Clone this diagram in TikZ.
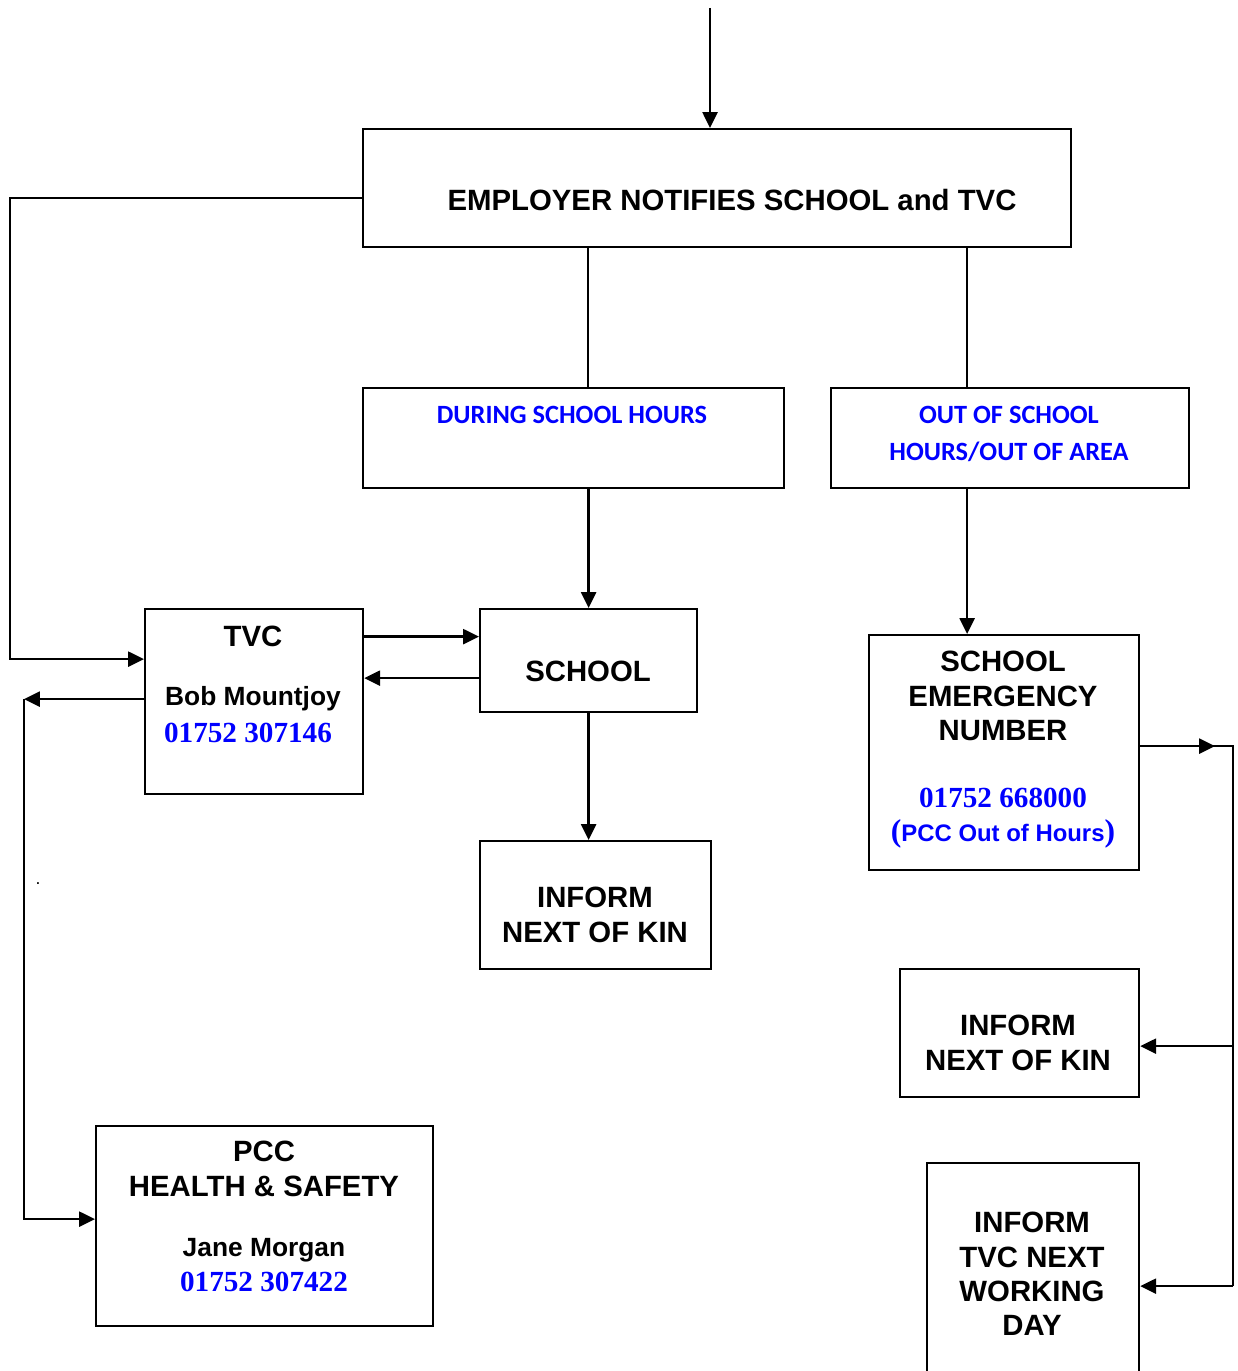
\documentclass[tikz,border=0pt]{standalone}
\usepackage{fontspec}
\setmainfont{Liberation Sans}
\newfontfamily\phonefont{Liberation Serif}
\newfontfamily\hoursfont{Carlito}
\usepackage{xcolor}
\usetikzlibrary{arrows.meta}
\definecolor{phoneblue}{RGB}{0,0,255}

\tikzset{
  box/.style={draw, line width=1.3pt, inner sep=0pt, anchor=north west},
  lbl/.style={font=\bfseries\fontsize{16.7}{19.5}\selectfont, align=center, inner sep=0pt},
  who/.style={font=\bfseries\fontsize{15}{17}\selectfont, inner sep=0pt},
  phone/.style={font=\phonefont\bfseries\fontsize{16.6}{19}\selectfont, text=phoneblue, inner sep=0pt},
  hours/.style={font=\hoursfont\bfseries\fontsize{15}{21.5}\selectfont, text=phoneblue, align=center, inner sep=0pt},
  link/.style={line width=1.3pt},
}

\begin{document}
\begin{tikzpicture}[x=0.02cm, y=-0.02cm, >={Triangle[length=9pt, width=8.5pt]}]
    \useasboundingbox (0,0) rectangle (1237,1371);

    % boxes
    \node[box, minimum width=14.16cm, minimum height=2.36cm] (emp) at (362,128) {};
    \node[box, minimum width=8.42cm, minimum height=2cm] (dur) at (362,387) {};
    \node[box, minimum width=7.16cm, minimum height=2cm] (out) at (830,387) {};
    \node[box, minimum width=4.36cm, minimum height=3.7cm] (tvc) at (144,608) {};
    \node[box, minimum width=4.34cm, minimum height=2.06cm] (school) at (479,608) {};
    \node[box, minimum width=4.62cm, minimum height=2.56cm] (kinA) at (479,840) {};
    \node[box, minimum width=5.4cm, minimum height=4.7cm] (emerg) at (868,634) {};
    \node[box, minimum width=4.78cm, minimum height=2.56cm] (kinB) at (899,968) {};
    \node[box, minimum width=4.24cm, minimum height=4.4cm] (tvcday) at (926,1162) {};
    \node[box, minimum width=6.74cm, minimum height=4cm] (pcc) at (95,1125) {};

    % texts
    \node[lbl] (empT) at (732,200) {EMPLOYER NOTIFIES SCHOOL and TVC};
    \node[hours] (durT) at (572,415) {DURING SCHOOL HOURS};
    \node[hours] (outT) at (1009,434) {OUT OF SCHOOL\\HOURS/OUT OF AREA};
    \node[lbl] (tvcT) at (253,636) {TVC};
    \node[who] (tvcW) at (253,699) {Bob Mountjoy};
    \node[phone] (tvcP) at (248,733) {01752 307146};
    \node[lbl] (schoolT) at (588,671) {SCHOOL};
    \node[lbl] (kinAT) at (595,915) {INFORM\\NEXT OF KIN};
    \node[lbl] (emergT) at (1003,696) {SCHOOL\\EMERGENCY\\NUMBER};
    \node[phone] (emergP) at (1003,798) {01752 668000};
    \node[inner sep=0pt, text=phoneblue] (emergN) at (1003,834)
        {\phonefont\bfseries\fontsize{18}{20}\selectfont(\rmfamily\bfseries\fontsize{13.6}{16}\selectfont PCC Out of Hours\phonefont\fontsize{18}{20}\selectfont)};
    \node[lbl] (kinBT) at (1018,1043) {INFORM\\NEXT OF KIN};
    \node[lbl] (tvcdayT) at (1032,1274) {INFORM\\TVC NEXT\\WORKING\\DAY};
    \node[lbl] (pccT) at (264,1169) {PCC\\HEALTH \& SAFETY};
    \node[who] (pccW) at (264,1250) {Jane Morgan};
    \node[phone] (pccP) at (264,1282) {01752 307422};
    \node[inner sep=0pt] (dot) at (38,884) {.};

    % rails
    \coordinate (topin) at (710,8);
    \coordinate (railA) at (10,0);
    \coordinate (railB) at (24,0);
    \coordinate (railC) at (1233,0);
    \coordinate (tvcin) at ([yshift=0.85cm]tvc.west);
    \coordinate (emout) at ([yshift=0.13cm]emerg.east);

    % connectors
    \path[draw, link, ->] (topin) -- (topin |- emp.north);
    \path[draw, link, ->] ([yshift=-0.2cm]emp.west) -| (railA |- tvcin) -- (tvcin);
    \path[draw, link] ([xshift=0.29cm]dur.north |- emp.south) -- ([xshift=0.29cm]dur.north);
    \path[draw, link] ([xshift=-0.86cm]out.north |- emp.south) -- ([xshift=-0.86cm]out.north);
    \path[draw, link, ->] (school.north |- dur.south) -- (school.north);
    \path[draw, link, ->] ([xshift=-0.86cm]out.south) -- ([xshift=-0.86cm]out.south |- emerg.north);
    \path[draw, link, ->] ([yshift=1.3cm]tvc.east) -- ([yshift=1.3cm]tvc.east -| school.west);
    \path[draw, link, ->] ([yshift=-0.35cm]school.west) -- ([yshift=-0.35cm]school.west -| tvc.east);
    \path[draw, link, ->] (school.south) -- (school.south |- kinA.north);
    \path[draw, link, ->] ([yshift=0.05cm]tvc.west) -- ([yshift=0.05cm]tvc.west -| railB);
    \path[draw, link, ->] ([yshift=0.05cm]tvc.west -| railB) |- ([yshift=0.14cm]pcc.west);
    \path[draw, link, ->] (emout) -- ([xshift=-0.36cm]railC |- emout);
    \path[draw, link] (emout) -- (railC |- emout) -- ([yshift=-0.26cm]railC |- tvcday.east);
    \path[draw, link, ->] ([yshift=-0.26cm]railC |- kinB.east) -- ([yshift=-0.26cm]kinB.east);
    \path[draw, link, ->] ([yshift=-0.26cm]railC |- tvcday.east) -- ([yshift=-0.26cm]tvcday.east);
\end{tikzpicture}
\end{document}
